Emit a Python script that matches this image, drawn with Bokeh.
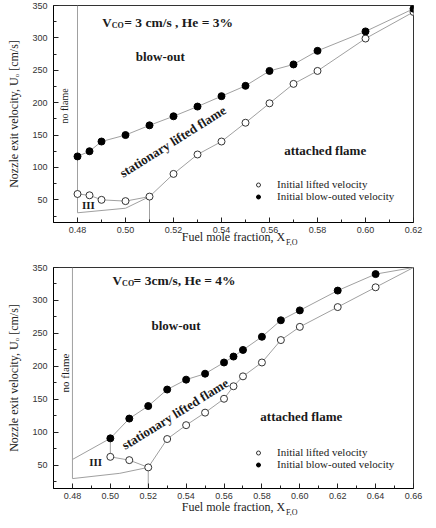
from bokeh.plotting import figure
from bokeh.layouts import column
from bokeh.models import FixedTicker, PrintfTickFormatter, Legend, LegendItem, Label, Range1d
from bokeh.embed import file_html
from bokeh.resources import INLINE

# ---------------- data: top panel (He = 3%) ----------------
x1_lift = [0.48, 0.485, 0.49, 0.50, 0.51, 0.52, 0.53, 0.54, 0.55, 0.56, 0.57, 0.58, 0.60, 0.62]
u1_lift = [59, 57, 50, 48, 55, 90, 120, 140, 169, 199, 229, 249, 299, 340]
x1_blow = [0.48, 0.485, 0.49, 0.50, 0.51, 0.52, 0.53, 0.54, 0.55, 0.56, 0.57, 0.58, 0.60, 0.62]
u1_blow = [117, 125, 140, 150, 165, 179, 194, 210, 226, 249, 259, 280, 310, 345]
# boundary lines (top)
x1_noflame = [0.48, 0.48]
u1_noflame = [30, 350]
x1_bottom = [0.48, 0.50, 0.51]
u1_bottom = [30, 37, 55]
x1_drop = [0.51, 0.51]
u1_drop = [55, 15]

# ---------------- data: bottom panel (He = 4%) ----------------
x2_lift = [0.50, 0.51, 0.52, 0.53, 0.54, 0.55, 0.56, 0.565, 0.57, 0.58, 0.59, 0.60, 0.62, 0.64]
u2_lift = [63, 58, 47, 90, 111, 130, 151, 170, 185, 206, 240, 260, 290, 320]
x2_blow = [0.50, 0.51, 0.52, 0.53, 0.54, 0.55, 0.56, 0.565, 0.57, 0.58, 0.59, 0.60, 0.62, 0.64]
u2_blow = [91, 121, 140, 165, 180, 189, 206, 215, 225, 245, 270, 285, 315, 340]
# boundary lines (bottom)
x2_noflame = [0.48, 0.48]
u2_noflame = [30, 350]
x2_left = [0.48, 0.50, 0.50]
u2_left = [59, 91, 63]
x2_bottom = [0.48, 0.505, 0.52]
u2_bottom = [30, 38, 47]
x2_drop = [0.52, 0.52]
u2_drop = [47, 15]
x2_lift_end = [0.64, 0.66]
u2_lift_end = [320, 350]
x2_blow_end = [0.64, 0.66]
u2_blow_end = [340, 350]

# ---------------- ticks ----------------
x1_ticks = [0.48, 0.50, 0.52, 0.54, 0.56, 0.58, 0.60, 0.62]
x1_minor = [0.47, 0.49, 0.51, 0.53, 0.55, 0.57, 0.59, 0.61]
x2_ticks = [0.48, 0.50, 0.52, 0.54, 0.56, 0.58, 0.60, 0.62, 0.64, 0.66]
x2_minor = [0.47, 0.49, 0.51, 0.53, 0.55, 0.57, 0.59, 0.61, 0.63, 0.65]
y_ticks = [50, 100, 150, 200, 250, 300, 350]
y_minor = [25, 75, 125, 175, 225, 275, 325]

LINE = "#a0a0a0"
SERIF = "Liberation Serif"
SANS = "Liberation Sans"


def make_fig(xr, height, top, bottom, xt, xm, xlab_standoff):
    p = figure(width=428, height=height, x_range=Range1d(*xr), y_range=Range1d(15, 350),
               output_backend="svg", toolbar_location=None,
               min_border_left=53, min_border_right=15,
               min_border_top=top, min_border_bottom=bottom)
    p.grid.visible = False
    p.outline_line_color = "#333333"
    p.background_fill_color = "white"
    p.xaxis.ticker = FixedTicker(ticks=xt, minor_ticks=xm)
    p.yaxis.ticker = FixedTicker(ticks=y_ticks, minor_ticks=y_minor)
    p.xaxis.formatter = PrintfTickFormatter(format="%.2f")
    p.yaxis.formatter = PrintfTickFormatter(format="%d")
    for ax in (p.xaxis, p.yaxis):
        ax.major_tick_in = 5
        ax.major_tick_out = 0
        ax.minor_tick_in = 3
        ax.minor_tick_out = 0
        ax.axis_line_color = "black"
        ax.major_tick_line_color = "#222222"
        ax.minor_tick_line_color = "#222222"
        ax.major_label_text_font = SANS
        ax.major_label_text_font_size = "9px"
        ax.major_label_text_color = "#333333"
        ax.axis_label_text_font = SERIF
        ax.axis_label_text_font_size = "12px"
        ax.axis_label_text_font_style = "normal"
        ax.axis_label_text_color = "#222222"
    p.xaxis.major_label_standoff = 4
    p.xaxis.axis_label_standoff = xlab_standoff
    p.yaxis.major_label_standoff = 6
    p.yaxis.axis_label_standoff = 8
    p.xaxis.axis_label = "Fuel mole fraction, X"
    p.yaxis.axis_label = "Nozzle exit velocity, U\u2092 [cm/s]"
    return p


def add_lines(p, pairs):
    for xs, ys in pairs:
        p.line(xs, ys, line_color=LINE, line_width=1)


def add_points(p, xl, ul, xb, ub, loc):
    r_open = p.scatter(xl, ul, marker="circle", size=7, fill_color="white",
                       line_color="#333333", line_width=1)
    r_fill = p.scatter(xb, ub, marker="circle", size=7, fill_color="black",
                       line_color="black")
    legend = Legend(items=[LegendItem(label="Initial lifted velocity", renderers=[r_open]),
                           LegendItem(label="Initial blow-outed velocity", renderers=[r_fill])],
                    location=loc, label_text_font=SERIF, label_text_font_size="11px",
                    label_text_color="#222222", glyph_width=10, glyph_height=11,
                    label_height=11, label_standoff=14, spacing=0, padding=0, margin=0,
                    border_line_alpha=0, background_fill_alpha=0)
    p.add_layout(legend)


def label(p, x, y, text, size="13px", style="bold", angle=0.0, align="left",
          baseline="alphabetic", xo=0, yo=0, place=None):
    lab = Label(x=x, y=y, text=text, text_font=SERIF, text_font_size=size,
                text_font_style=style, angle=angle, text_align=align,
                text_baseline=baseline, x_offset=xo, y_offset=yo,
                text_color="#1a1a1a")
    if place is None:
        p.add_layout(lab)
    else:
        p.add_layout(lab, place)


# ---------------- top panel ----------------
p1 = make_fig((0.47, 0.62), 260, 5, 38, x1_ticks, x1_minor, -6)
add_lines(p1, [(x1_noflame, u1_noflame), (x1_bottom, u1_bottom), (x1_drop, u1_drop),
               (x1_lift, u1_lift), (x1_blow, u1_blow)])
add_points(p1, x1_lift, u1_lift, x1_blow, u1_blow, (200, 20))
label(p1, 0.4903, 323, "V")
label(p1, 0.4903, 323, "CO", size="8px", xo=9.5, yo=-3)
label(p1, 0.4903, 323, "= 3 cm/s , He = 3%", size="13.5px", xo=22)
label(p1, 0.5145, 272, "blow-out", align="center")
label(p1, 0.4745, 195, "no flame", size="10px", style="normal", angle=1.5708,
      align="center", baseline="middle")
label(p1, 0.5197, 140, "stationary lifted flame", angle=0.56, align="center",
      baseline="middle")
label(p1, 0.5832, 126, "attached flame", align="center")
label(p1, 0.4845, 42, "III", size="11px", align="center", baseline="middle")
label(p1, 0.5669, -16.5, "F,O", size="8px", style="normal", baseline="middle", place="right")

# ---------------- bottom panel ----------------
p2 = make_fig((0.47, 0.66), 260, 7, 32, x2_ticks, x2_minor, -2)
add_lines(p2, [(x2_noflame, u2_noflame), (x2_left, u2_left), (x2_bottom, u2_bottom),
               (x2_drop, u2_drop), (x2_lift, u2_lift), (x2_blow, u2_blow),
               (x2_lift_end, u2_lift_end), (x2_blow_end, u2_blow_end)])
add_points(p2, x2_lift, u2_lift, x2_blow, u2_blow, (200, 18))
label(p2, 0.5012, 331, "V")
label(p2, 0.5012, 331, "CO", size="8px", xo=9.5, yo=-3)
label(p2, 0.5012, 331, "= 3cm/s, He = 4%", size="13.5px", xo=21)
label(p2, 0.5347, 262, "blow-out", align="center")
label(p2, 0.4762, 190, "no flame", size="11px", style="normal", angle=1.5708,
      align="center", baseline="middle")
label(p2, 0.5342, 128, "stationary lifted flame", angle=0.555, align="center",
      baseline="middle")
label(p2, 0.6008, 123.5, "attached flame", align="center")
label(p2, 0.4922, 55, "III", size="11px", align="center", baseline="middle")
label(p2, 0.5927, -22, "F,O", size="8px", style="normal", baseline="middle", place="right")

layout = column(p1, p2)
open("out.html", "w").write(file_html(layout, INLINE))
